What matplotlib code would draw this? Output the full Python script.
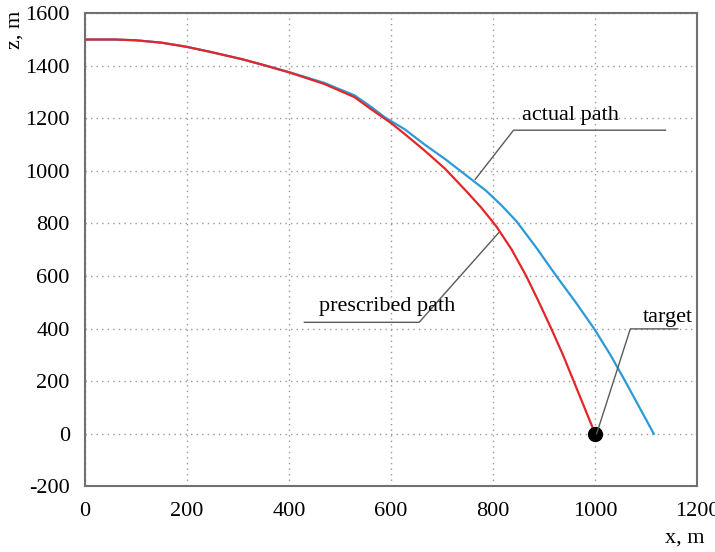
import matplotlib.pyplot as plt

plt.rcParams['font.family'] = ['Liberation Serif', 'DejaVu Serif']
plt.rcParams['axes.unicode_minus'] = False

# prescribed path (red)
pres_x = [0, 60, 100, 150, 200, 250, 308, 350, 400, 469, 528, 560, 600, 627, 666, 706,
          746, 776, 806, 836, 865, 890, 914, 937, 958, 979, 1000]
pres_z = [1500, 1500, 1497, 1488, 1472, 1451, 1425, 1403, 1375, 1331, 1281, 1236, 1182, 1140,
          1077, 1008, 926, 862, 790, 702, 600, 500, 400, 300, 200, 100, 0]

# actual path (blue)
act_x = [0, 60, 100, 150, 200, 250, 308, 350, 400, 469, 500, 528, 560, 587, 627, 666, 706,
         746, 786, 816, 846, 884, 924, 962, 998, 1030, 1059, 1087, 1115]
act_z = [1500, 1500, 1497, 1488, 1472, 1451, 1425, 1403, 1376, 1335, 1310, 1288, 1245, 1205,
         1158, 1100, 1045, 985, 925, 870, 808, 710, 600, 500, 400, 300, 200, 100, 0]

target = (1000, 0)

xticks = [0, 200, 400, 600, 800, 1000, 1200]
yticks = [-200, 0, 200, 400, 600, 800, 1000, 1200, 1400, 1600]

fig = plt.figure(figsize=(7.15, 5.52), dpi=100)
ax = fig.add_axes([0.119, 0.119, 0.856, 0.857])

ax.plot(act_x, act_z, color='#2b9ad6', lw=1.6, zorder=3)
ax.plot(pres_x, pres_z, color='#e3262a', lw=1.6, zorder=4)
ax.plot(*target, 'o', color='black', ms=10, zorder=5)

lc = '#5a5a5a'
# leader lines
ax.plot([765, 840, 1138], [968, 1155, 1155], color=lc, lw=1.0, zorder=2)
ax.plot([811, 655, 430], [765, 424, 424], color=lc, lw=1.0, zorder=2)
ax.plot([1003, 1069, 1162], [0, 399, 399], color=lc, lw=1.0, zorder=6)

ax.text(951, 1211, 'actual path', fontsize=16, ha='center', va='center')
ax.text(592, 484, 'prescribed path', fontsize=16, ha='center', va='center')
ax.text(1142, 442, 'target', fontsize=16, ha='center', va='center')

ax.set_xlim(0, 1200)
ax.set_ylim(-200, 1600)
ax.set_xticks(xticks)
ax.set_yticks(yticks)
ax.tick_params(length=0, labelsize=16, pad=11)
ax.grid(True, linestyle=(0, (1, 3)), color='#999999', lw=1.0)
for s in ax.spines.values():
    s.set_color('#707070')
    s.set_linewidth(1.5)

fig.text(0.021, 0.945, 'z, m', rotation=90, fontsize=16, ha='center', va='center')
fig.text(0.957, 0.025, 'x, m', fontsize=16, ha='center', va='center')

fig.savefig('out.png', dpi=100)
